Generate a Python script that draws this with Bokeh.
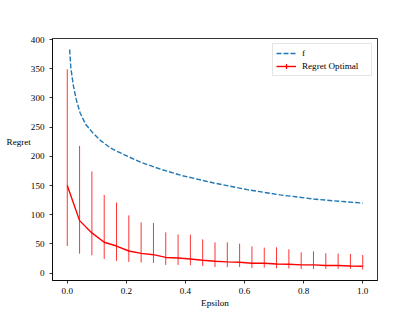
from bokeh.plotting import figure
from bokeh.models import Range1d, FixedTicker, PrintfTickFormatter, Legend, LegendItem
from bokeh.embed import file_html
from bokeh.resources import INLINE

# f curve
f_eps = [0.008, 0.012, 0.02, 0.03, 0.043, 0.062, 0.085, 0.113, 0.147, 0.192,
         0.248, 0.316, 0.389, 0.496, 0.609, 0.721, 0.834, 0.9, 1.0]
f_val = [383, 352, 323, 298, 275, 255, 241, 227, 214, 203,
         190, 178, 167, 154.5, 143, 134, 127, 124, 120]

# Regret Optimal (mean with error bars)
eps = [0.0, 0.0417, 0.0833, 0.125, 0.1667, 0.2083, 0.25, 0.2917, 0.3333, 0.375,
       0.4167, 0.4583, 0.5, 0.5417, 0.5833, 0.625, 0.6667, 0.7083, 0.75, 0.7917,
       0.8333, 0.875, 0.9167, 0.9583, 1.0]
regret_mean = [150, 90, 69, 53, 46.5, 38, 34, 31.7, 27, 26,
               24.4, 22.1, 20.4, 19.3, 18.7, 17, 17, 15.8, 15.3, 14.2,
               14.2, 13.1, 13.1, 12.4, 11.9]
regret_upper = [349, 218, 174, 134, 121, 99, 87, 86, 70, 66.4,
                65.9, 57.9, 52.8, 52.8, 50.6, 46, 43.8, 44.3, 40.9, 35.8,
                37.5, 34.1, 33.6, 32.9, 31.2]
regret_lower = [46.5, 33.5, 30.7, 24.4, 21, 19.3, 18.2, 17.6, 14.2, 14.2,
                13.6, 12.4, 10.7, 10.2, 10.7, 9, 9.7, 8.5, 8, 7.3,
                7.3, 7.3, 7.3, 7.3, 6.3]

x_ticks = [0.0, 0.2, 0.4, 0.6, 0.8, 1.0]
y_ticks = [0, 50, 100, 150, 200, 250, 300, 350, 400]

FONT = "Liberation Serif"
FS = "9.1px"

p = figure(width=420, height=315, output_backend="svg", toolbar_location=None,
           x_range=Range1d(-0.05, 1.05), y_range=Range1d(-12.5, 401.8),
           min_border_left=52, min_border_right=43, min_border_top=38, min_border_bottom=35)
p.grid.visible = False
p.background_fill_color = "white"
p.border_fill_color = "white"
p.outline_line_color = "black"
p.outline_line_width = 0.8

for ax in (p.xaxis[0], p.yaxis[0]):
    ax.major_label_text_font = FONT
    ax.major_label_text_font_size = FS
    ax.major_label_text_color = "black"
    ax.axis_line_color = "black"
    ax.axis_line_width = 0.8
    ax.major_tick_line_color = "black"
    ax.major_tick_line_width = 0.8
    ax.major_tick_out = 3
    ax.major_tick_in = 0
    ax.minor_tick_line_color = None
    ax.major_label_standoff = 4
    ax.axis_label_text_font = FONT
    ax.axis_label_text_font_size = FS
    ax.axis_label_text_font_style = "normal"
    ax.axis_label_text_color = "black"

p.xaxis[0].ticker = FixedTicker(ticks=x_ticks)
p.xaxis[0].formatter = PrintfTickFormatter(format="%.1f")
p.xaxis[0].axis_label = "Epsilon"
p.xaxis[0].axis_label_standoff = 1
p.yaxis[0].ticker = FixedTicker(ticks=y_ticks)
p.yaxis[0].major_label_standoff = 5
p.yaxis[0].axis_label = "Regret\n \n \n "
p.yaxis[0].axis_label_orientation = "horizontal"
p.yaxis[0].axis_label_standoff = -3

r_f = p.line(f_eps, f_val, line_color="#1f77b4", line_width=1.4, line_dash="5 2")
p.segment(x0=eps, y0=regret_lower, x1=eps, y1=regret_upper,
          line_color="red", line_width=1, line_alpha=0.8)
r_mean = p.line(eps, regret_mean, line_color="red", line_width=1.4)
r_cap = p.scatter(eps, regret_mean, marker="cross", size=0, line_color="red",
                  line_width=1.2)

legend = Legend(items=[LegendItem(label="f", renderers=[r_f]),
                       LegendItem(label="Regret Optimal", renderers=[r_mean, r_cap])],
                location="top_right")
legend.label_text_font = FONT
legend.label_text_font_size = FS
legend.label_text_color = "black"
legend.glyph_width = 20
legend.glyph_height = 12
legend.label_height = 12
legend.label_width = 66
legend.label_standoff = 6
legend.spacing = 1
legend.padding = 3
legend.margin = 5
legend.border_line_color = "#cccccc"
legend.border_line_width = 1
legend.background_fill_alpha = 0.8
p.add_layout(legend)

open("out.html", "w").write(file_html(p, INLINE))
